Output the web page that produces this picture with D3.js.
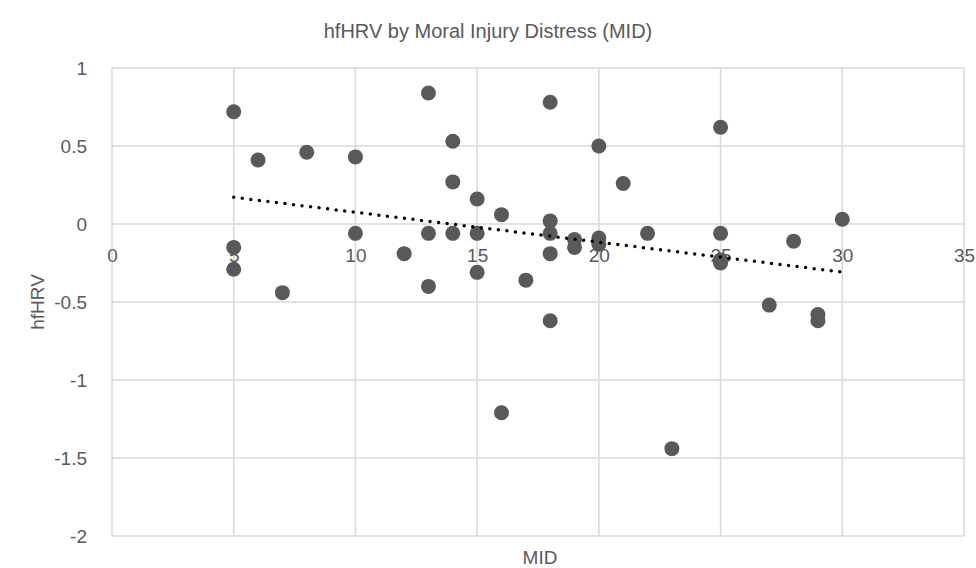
<!DOCTYPE html>
<html>
<head>
<meta charset="utf-8">
<script src="https://cdn.jsdelivr.net/npm/d3@7"></script>
<style>
  body { margin: 0; background: #fff; }
  text { font-family: "Liberation Sans", Arial, sans-serif; fill: #595959; }
</style>
</head>
<body>
<div id="chart"></div>
<script>
// MID score and hfHRV for each participant
const mid = [5, 5, 5, 6, 7, 8, 10, 10, 12, 13, 13, 13, 14, 14, 14, 15, 15, 15, 16, 16, 17,
  18, 18, 18, 18, 18, 19, 19, 20, 20, 20, 21, 22, 23, 25, 25, 25, 25, 27, 28, 29, 29, 30]
const hfhrv = [0.72, -0.15, -0.29, 0.41, -0.44, 0.46, 0.43, -0.06, -0.19, 0.84, -0.06, -0.40,
  0.53, 0.27, -0.06, 0.16, -0.06, -0.31, 0.06, -1.21, -0.36,
  0.78, 0.02, -0.06, -0.19, -0.62, -0.10, -0.15, 0.50, -0.09, -0.13, 0.26, -0.06, -1.44,
  0.62, -0.06, -0.23, -0.25, -0.52, -0.11, -0.58, -0.62, 0.03]
const xTicks = [0, 5, 10, 15, 20, 25, 30, 35]
const yTicks = [1, 0.5, 0, -0.5, -1, -1.5, -2]

const points = mid.map((d, i) => ({ x: d, y: hfhrv[i] }))

const W = 976, H = 568
const margin = { top: 68, right: 12, bottom: 32, left: 112 }
const width = W - margin.left - margin.right
const height = H - margin.top - margin.bottom

const xScale = d3.scaleLinear().domain([0, 35]).range([0, width])
const yScale = d3.scaleLinear().domain([-2, 1]).range([height, 0])

const svg = d3.select('#chart').append('svg')
  .attr('width', W)
  .attr('height', H)

svg.append('text')
  .attr('x', 488).attr('y', 38)
  .attr('text-anchor', 'middle')
  .style('font-size', '20px')
  .text('hfHRV by Moral Injury Distress (MID)')

const g = svg.append('g')
  .attr('transform', `translate(${margin.left}, ${margin.top})`)

// gridlines
g.append('g').selectAll('line')
  .data(yTicks)
  .join('line')
    .attr('x1', 0).attr('x2', width)
    .attr('y1', d => yScale(d)).attr('y2', d => yScale(d))
    .attr('stroke', '#d9d9d9').attr('stroke-width', 1.5)

g.append('g').selectAll('line')
  .data(xTicks)
  .join('line')
    .attr('x1', d => xScale(d)).attr('x2', d => xScale(d))
    .attr('y1', 0).attr('y2', height)
    .attr('stroke', '#d9d9d9').attr('stroke-width', 1.5)

// y tick labels, plain hyphen for negatives like Excel
const yAxis = g.append('g')
  .call(d3.axisLeft(yScale).tickValues(yTicks).tickSize(0).tickPadding(25).tickFormat(d => String(d)))
yAxis.select('.domain').remove()
yAxis.selectAll('text').style('font-size', '19px').attr('fill', '#595959')

// x tick labels sit under the zero line
const xAxis = g.append('g')
  .attr('transform', `translate(0, ${yScale(0)})`)
  .call(d3.axisBottom(xScale).tickValues(xTicks).tickSize(0).tickPadding(25).tickFormat(d => String(d)))
xAxis.select('.domain').remove()
xAxis.selectAll('text').style('font-size', '19px').attr('fill', '#595959')

// linear trendline from least squares fit
const mx = d3.mean(points, d => d.x), my = d3.mean(points, d => d.y)
const slope = d3.sum(points, d => (d.x - mx) * (d.y - my)) / d3.sum(points, d => (d.x - mx) ** 2)
const icpt = my - slope * mx
const [x0, x1] = d3.extent(points, d => d.x)

g.append('g').selectAll('circle')
  .data(points)
  .join('circle')
    .attr('cx', d => xScale(d.x))
    .attr('cy', d => yScale(d.y))
    .attr('r', 7.5)
    .attr('fill', '#595959')

g.append('line')
  .attr('x1', xScale(x0)).attr('y1', yScale(icpt + slope * x0))
  .attr('x2', xScale(x1)).attr('y2', yScale(icpt + slope * x1))
  .attr('stroke', '#000')
  .attr('stroke-width', 3.5)
  .attr('stroke-linecap', 'round')
  .attr('stroke-dasharray', '0 8.6')

// axis titles
svg.append('text')
  .attr('x', 540).attr('y', 564)
  .attr('text-anchor', 'middle')
  .style('font-size', '19px')
  .text('MID')

svg.append('text')
  .attr('transform', 'translate(44, 302) rotate(-90)')
  .attr('text-anchor', 'middle')
  .style('font-size', '19px')
  .text('hfHRV')
</script>
</body>
</html>
